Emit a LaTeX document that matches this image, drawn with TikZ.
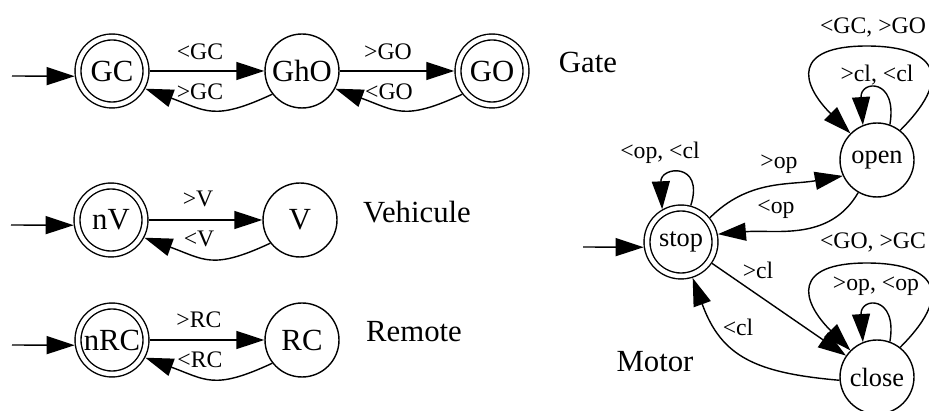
\documentclass[tikz,border=0pt]{standalone}
\usepackage{fontspec}
\setmainfont{Liberation Serif}
\usetikzlibrary{arrows.meta}

\tikzset{
  st/.style={circle, draw, line width=0.8pt, minimum size=1.48cm, inner sep=0pt,
    font=\fontsize{17.5}{20}\selectfont},
  stacc/.style={st, minimum size=1.36cm, double, double distance=0.09cm, outer sep=0.075cm},
  mot/.style={font=\fontsize{15}{18}\selectfont},
  lab/.style={inner sep=0pt, font=\fontsize{13.5}{16}\selectfont},
  grp/.style={inner sep=0pt, font=\fontsize{17.5}{20}\selectfont},
  arr/.style={line width=0.8pt, -{Triangle[length=0.56cm, width=0.36cm]}},
}

\begin{document}
\begin{tikzpicture}[x=0.02cm, y=0.02cm]
    \useasboundingbox (0,0) rectangle (929,-411);
    \clip (0,0) rectangle (929,-411);

    % Gate
    \node[stacc] (gc) at (112,-71) {GC};
    \node[st] (gho) at (302,-71) {GhO};
    \node[stacc] (go) at (492,-71) {GO};
    \node[grp] (gate) at (588,-62) {Gate};
    \coordinate (gcin) at (12,-76);
    \draw[arr] (gcin) -- (gc.188);
    \draw[arr] (gc) -- (gho);
    \draw[arr] (gho) -- (go);
    \draw[arr] (gho.218) to[out=205, in=-20, looseness=1.3] (gc.-28);
    \draw[arr] (go.218) to[out=205, in=-20, looseness=1.3] (gho.-28);
    \node[lab] (gcgho) at (200,-52) {<GC};
    \node[lab] (ghogc) at (200,-92) {>GC};
    \node[lab] (ghogo) at (388,-52) {>GO};
    \node[lab] (gogho) at (389,-92) {<GO};

    % Vehicule
    \node[stacc] (nv) at (111,-220) {nV};
    \node[st] (v) at (300,-220) {V};
    \node[grp] (veh) at (417,-212) {Vehicule};
    \coordinate (nvin) at (11,-225);
    \draw[arr] (nvin) -- (nv.188);
    \draw[arr] (nv) -- (v);
    \draw[arr] (v.218) to[out=205, in=-20, looseness=1.3] (nv.-28);
    \node[lab] (nvv) at (198,-199) {>V};
    \node[lab] (vnv) at (199,-239) {<V};

    % Remote
    \node[stacc] (nrc) at (112,-340) {nRC};
    \node[st] (rc) at (302,-340) {RC};
    \node[grp] (rem) at (414,-332) {Remote};
    \coordinate (nrcin) at (12,-345);
    \draw[arr] (nrcin) -- (nrc.188);
    \draw[arr] (nrc) -- (rc);
    \draw[arr] (rc.218) to[out=205, in=-20, looseness=1.3] (nrc.-28);
    \node[lab] (nrcrc) at (199,-320) {>RC};
    \node[lab] (rcnrc) at (200,-360) {<RC};

    % Motor
    \node[stacc, mot] (stop) at (681,-242) {stop};
    \node[st, mot] (open) at (877,-160) {open};
    \node[st, mot] (close) at (877,-377) {close};
    \node[grp] (motor) at (655,-362) {Motor};
    \coordinate (stopin) at (583,-247);
    \coordinate (opentop) at (867,-46);
    \coordinate (closetop) at (867,-263);
    \draw[arr] (stopin) -- (stop.188);
    \draw[arr] (stop.40) to[out=45, in=190] (open.205);
    \draw[arr] (open.240) to[out=240, in=5] (stop.12);
    \draw[arr] (stop) -- (close);
    \draw[arr] (close.185) to[out=175, in=-70, looseness=1.2] (stop.-72);
    \draw[arr] (stop.75) .. controls +(14,44) and +(-2,43) .. (stop.120);
    \draw[arr] (open.70) .. controls +(8,47) and +(-3,45) .. (open.112);
    \draw[arr] (open.52) .. controls +(60,60) and +(60,0) .. (opentop)
        .. controls +(-75,0) and +(-50,50) .. (open.135);
    \draw[arr] (close.70) .. controls +(8,47) and +(-3,45) .. (close.112);
    \draw[arr] (close.52) .. controls +(60,60) and +(60,0) .. (closetop)
        .. controls +(-75,0) and +(-50,50) .. (close.135);
    \node[lab] (stoploop) at (660,-153) {<op, <cl};
    \node[lab] (stopopen) at (779,-164) {>op};
    \node[lab] (openstop) at (776,-209) {<op};
    \node[lab] (stopclose) at (758,-270) {>cl};
    \node[lab] (closestop) at (738,-327) {<cl};
    \node[lab] (openout) at (873,-27) {<GC, >GO};
    \node[lab] (openin) at (877,-75) {>cl, <cl};
    \node[lab] (closeout) at (873,-242) {<GO, >GC};
    \node[lab] (closein) at (876,-286) {>op, <op};
\end{tikzpicture}
\end{document}
